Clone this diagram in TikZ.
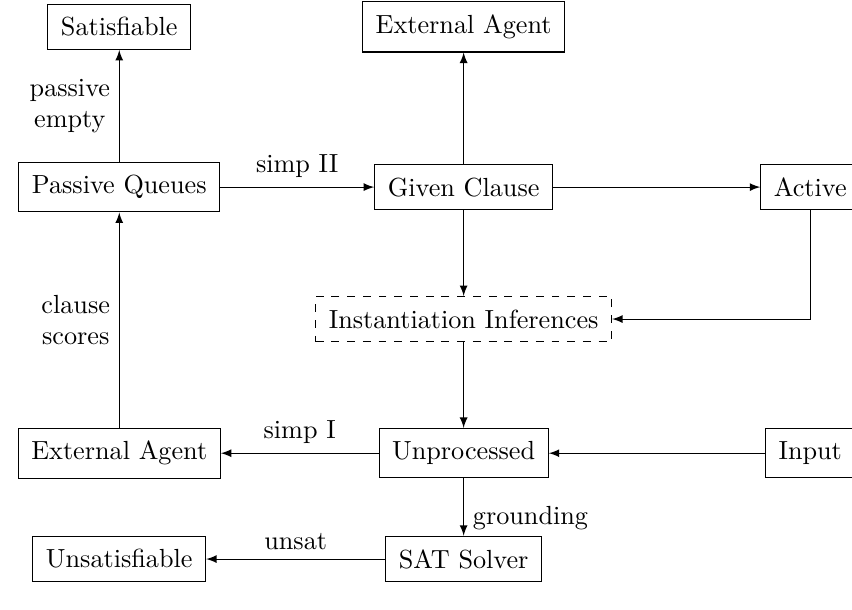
\documentclass[tikz,border=0pt]{standalone}
\usepackage{tikz}
\begin{document}
\begin{tikzpicture}[>=latex]
\tikzstyle{box}=[draw,shape=rectangle,inner sep=5pt]
\useasboundingbox (0,0) rectangle (11.43,-8.18);
\path (1.60,-0.36) node[box](sat){Satisfiable} (6.22,-0.36) node[box](agent1){External Agent};
\path (1.60,-2.51) node[box](passive){Passive Queues} (6.22,-2.51) node[box](given){Given Clause}
 (10.87,-2.51) node[box](active){Active};
\path (6.22,-4.28) node[box,dashed](inst){Instantiation Inferences};
\path (1.60,-6.08) node[box](agent2){External Agent} (6.22,-6.08) node[box](unproc){Unprocessed}
 (10.87,-6.08) node[box](input){Input};
\path (1.60,-7.50) node[box](unsat){Unsatisfiable} (6.22,-7.50) node[box](solver){SAT Solver};

\draw[->] (passive) -- node[left,align=center] {passive\\empty} (sat);
\draw[->] (passive) -- node[above] {simp II} (given);
\draw[->] (given) -- (agent1);
\draw[->] (given) -- (active);
\draw[->] (given) -- (inst);
\draw[->] (active) |- (inst);
\draw[->] (inst) -- (unproc);
\draw[->] (input) -- (unproc);
\draw[->] (unproc) -- node[above] {simp I} (agent2);
\draw[->] (agent2) -- node[left,align=center] {clause\\scores} (passive);
\draw[->] (unproc) -- node[right,pos=0.7] {grounding} (solver);
\draw[->] (solver) -- node[above] {unsat} (unsat);
\end{tikzpicture}
\end{document}
